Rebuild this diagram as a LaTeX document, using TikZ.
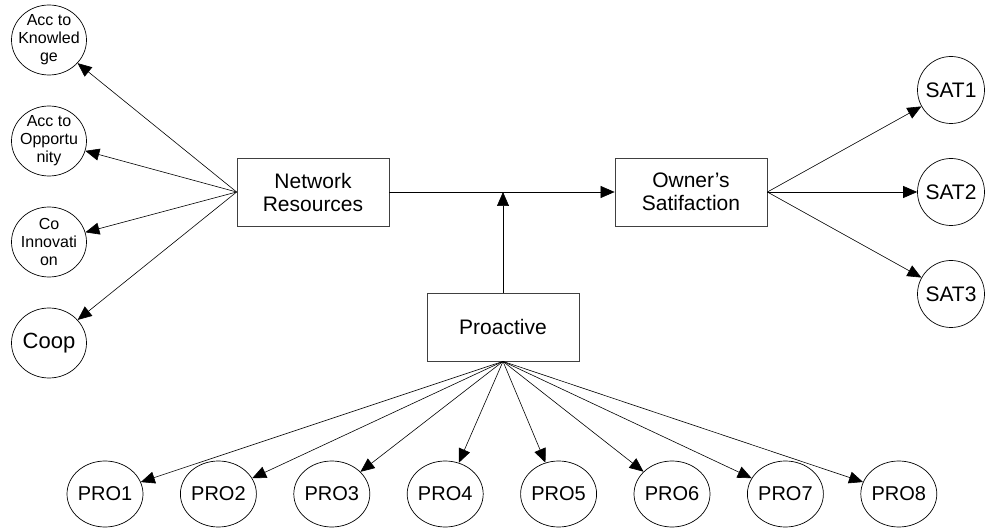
\documentclass[tikz,border=0pt]{standalone}
\usepackage{fontspec}
\setmainfont{Liberation Sans}
\usetikzlibrary{shapes.geometric, arrows.meta}

\begin{document}
\begin{tikzpicture}[x=1pt, y=-1pt,
  construct/.style={draw=black!75, line width=0.8pt, minimum width=152pt,
    minimum height=68pt, inner sep=0pt, align=center,
    font=\fontsize{21}{23}\selectfont},
  item/.style={draw, ellipse, line width=0.7pt, inner sep=-5pt, align=center},
  link/.style={line width=0.6pt, -{Triangle[length=14pt, width=12pt]}}]
\useasboundingbox (0,0) rectangle (986,529);

% Constructs
\node[construct] (net) at (313,192) {Network\\Resources};
\node[construct] (own) at (691,192) {Owner's\\Satifaction};
\node[construct] (pro) at (503,327) {Proactive};

% Network resources indicators
\node[item, minimum width=75pt, minimum height=70pt,
  font=\fontsize{16}{18}\selectfont] (know) at (49,40) {Acc to\\Knowled\\ge};
\node[item, minimum width=75pt, minimum height=70pt,
  font=\fontsize{16}{18}\selectfont] (opp) at (49,141) {Acc to\\Opportu\\nity};
\node[item, minimum width=75pt, minimum height=70pt,
  font=\fontsize{16}{18}\selectfont] (coin) at (49,242) {Co\\Innovati\\on};
\node[item, minimum width=75pt, minimum height=70pt,
  font=\fontsize{22}{24}\selectfont] (coop) at (49,343) {Coop};

% Satisfaction indicators
\node[item, minimum width=67pt, minimum height=67pt,
  font=\fontsize{21}{23}\selectfont] (sat1) at (951,90) {SAT1};
\node[item, minimum width=67pt, minimum height=67pt,
  font=\fontsize{21}{23}\selectfont] (sat2) at (951,192) {SAT2};
\node[item, minimum width=67pt, minimum height=67pt,
  font=\fontsize{21}{23}\selectfont] (sat3) at (951,294) {SAT3};

% Proactive indicators
\foreach \i in {1,...,8}
  \node[item, minimum width=76pt, minimum height=66pt,
    font=\fontsize{20}{22}\selectfont] (pro\i) at ({105+113.4*(\i-1)},494) {PRO\i};

% Paths
\foreach \t in {know,opp,coin,coop}
  \draw[link] (net.west) -- (\t);
\draw[link] (net) -- (own);
\draw[link] (pro.north) -- (pro.north |- net.east);
\foreach \t in {sat1,sat2,sat3}
  \draw[link] (own.east) -- (\t);
\foreach \i in {1,...,8}
  \draw[link] (pro.south) -- (pro\i);
\end{tikzpicture}
\end{document}
